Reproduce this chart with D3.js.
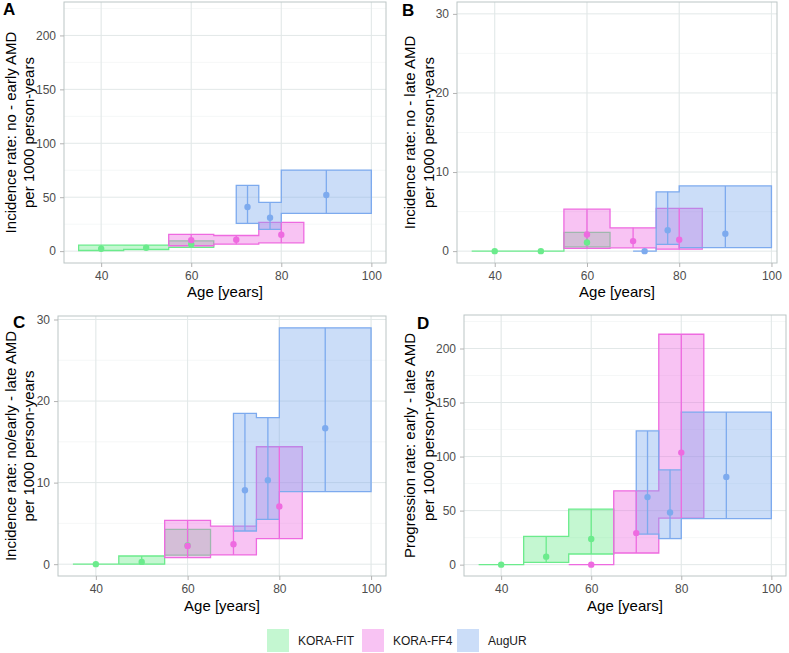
<!DOCTYPE html>
<html>
<head>
<meta charset="utf-8">
<script src="https://cdn.jsdelivr.net/npm/d3@7"></script>
<style>
  body { margin: 0; background: #fff; }
  svg { font-family: "Liberation Sans", Arial, sans-serif; }
</style>
</head>
<body>
<svg id="fig" width="789" height="653"></svg>
<script>
// Age groups (interval edges) and the age where the point sits.
const fitBreaks = [35, 45, 55, 65];
const ff4Breaks = [55, 65, 75, 85];
const augBreaks = [70, 75, 80, 100];
const fitMid = [40, 50, 60];
const ff4Mid = [60, 70, 80];
const augMid = [72.5, 77.5, 90];

const cohorts = ["KORA-FIT", "KORA-FF4", "AugUR"];

// Rows: [estimate, lower, upper] per age group.
// A: no -> early AMD
const aFit = [[2.2, 0.6, 5.5], [3.1, 1.5, 5.6], [6.5, 3.5, 9.5]];
const aFF4 = [[10.2, 5.0, 15.5], [10.5, 6.5, 14.5], [15.2, 7.7, 26.6]];
const aAug = [[40.9, 25.7, 61.0], [31.0, 20.1, 45.2], [52.0, 35.0, 75.2]];
// B: no -> late AMD
const bFit = [[0, 0, 0], [0, 0, 0], [1.1, 0.55, 2.37]];
const bFF4 = [[2.1, 0.35, 5.3], [1.27, 0.42, 2.95], [1.45, 0.25, 5.4]];
const bAug = [[0, 0, 0], [2.65, 0.85, 7.5], [2.2, 0.45, 8.25]];
// C: no/early -> late AMD
const cFit = [[0, 0, 0], [0.28, 0, 1.0], [2.3, 1.1, 4.27]];
const cFF4 = [[2.24, 0.8, 5.37], [2.44, 1.14, 4.67], [7.07, 3.13, 14.4]];
const cAug = [[9.07, 4.07, 18.5], [10.3, 5.49, 17.97], [16.67, 8.9, 28.98]];
// D: early -> late AMD (progression)
const dFit = [[0, 0, 0], [7.4, 2.15, 26.2], [23.7, 9.85, 51.4]];
const dFF4 = [[0, 0, 0], [29.2, 10.8, 68.3], [103.7, 43.1, 213.2]];
const dAug = [[62.5, 28.3, 123.7], [48.3, 24.0, 87.7], [81.2, 42.5, 141.2]];

const yTicksBig = [0, 50, 100, 150, 200];
const yTicksSmall = [0, 10, 20, 30];
const xTicks = [40, 60, 80, 100];

const colors = ["#6BEB8C", "#EE6AE0", "#7DAAEE"];
const fillAlpha = 0.4;

const svg = d3.select("#fig");

function drawPanel(p) {
  const x = d3.scaleLinear().domain(p.xDomain).range([p.left, p.right]);
  const y = d3.scaleLinear().domain(p.yDomain).range([p.bottom, p.top]);
  const g = svg.append("g");

  // grid: minor first, then major
  const xMinor = d3.range(xTicks[0] - 10, xTicks[xTicks.length - 1] + 20, 20)
    .map(v => v + 10).filter(v => v > p.xDomain[0] && v < p.xDomain[1]);
  const step = p.yTicks[1] - p.yTicks[0];
  const yMinor = p.yTicks.map(v => v + step / 2).concat([p.yTicks[0] - step / 2])
    .filter(v => v > p.yDomain[0] && v < p.yDomain[1]);

  g.selectAll(".xmin").data(xMinor).enter().append("line")
    .attr("x1", d => x(d)).attr("x2", d => x(d))
    .attr("y1", p.top).attr("y2", p.bottom)
    .attr("stroke", "#eef2f2").attr("stroke-width", 0.6);
  g.selectAll(".ymin").data(yMinor).enter().append("line")
    .attr("y1", d => y(d)).attr("y2", d => y(d))
    .attr("x1", p.left).attr("x2", p.right)
    .attr("stroke", "#eef2f2").attr("stroke-width", 0.6);
  g.selectAll(".xmaj").data(xTicks).enter().append("line")
    .attr("x1", d => x(d)).attr("x2", d => x(d))
    .attr("y1", p.top).attr("y2", p.bottom)
    .attr("stroke", "#e2e8e8").attr("stroke-width", 1);
  g.selectAll(".ymaj").data(p.yTicks).enter().append("line")
    .attr("y1", d => y(d)).attr("y2", d => y(d))
    .attr("x1", p.left).attr("x2", p.right)
    .attr("stroke", "#e2e8e8").attr("stroke-width", 1);

  const area = d3.area()
    .x(d => x(d.x))
    .y0(d => y(d.lo))
    .y1(d => y(d.hi));

  // ribbons
  p.series.forEach((s, k) => {
    const pts = [];
    s.rows.forEach((r, i) => {
      pts.push({ x: s.breaks[i], lo: r[1], hi: r[2] });
      pts.push({ x: s.breaks[i + 1], lo: r[1], hi: r[2] });
    });
    g.append("path")
      .attr("d", area(pts))
      .attr("fill", colors[k]).attr("fill-opacity", fillAlpha)
      .attr("stroke", colors[k]).attr("stroke-width", 1.3)
      .attr("stroke-linejoin", "miter");
  });

  // error bars
  p.series.forEach((s, k) => {
    g.selectAll(null).data(s.rows).enter().append("line")
      .attr("x1", (d, i) => x(s.mids[i])).attr("x2", (d, i) => x(s.mids[i]))
      .attr("y1", d => y(d[1])).attr("y2", d => y(d[2]))
      .attr("stroke", colors[k]).attr("stroke-width", 1.3);
  });

  // points
  p.series.forEach((s, k) => {
    g.selectAll(null).data(s.rows).enter().append("circle")
      .attr("cx", (d, i) => x(s.mids[i]))
      .attr("cy", d => y(d[0]))
      .attr("r", 3.2)
      .attr("fill", colors[k]);
  });

  // border
  g.append("rect")
    .attr("x", p.left).attr("y", p.top)
    .attr("width", p.right - p.left).attr("height", p.bottom - p.top)
    .attr("fill", "none").attr("stroke", "#bcc5c5").attr("stroke-width", 1);

  // axes
  const xAxis = g.append("g").attr("transform", `translate(0,${p.bottom})`)
    .call(d3.axisBottom(x).tickValues(xTicks).tickSize(4).tickPadding(4));
  const yAxis = g.append("g").attr("transform", `translate(${p.left},0)`)
    .call(d3.axisLeft(y).tickValues(p.yTicks).tickSize(4).tickPadding(4));
  [xAxis, yAxis].forEach(a => {
    a.select(".domain").remove();
    a.selectAll(".tick line").attr("stroke", "#b3b3b3");
    a.selectAll(".tick text").attr("fill", "#4d4d4d")
      .style("font-size", "12px")
      .style("font-family", "Liberation Sans, Arial, sans-serif");
  });

  // axis titles
  g.append("text")
    .attr("x", (p.left + p.right) / 2).attr("y", p.xTitleY)
    .attr("text-anchor", "middle").style("font-size", "15px")
    .attr("fill", "#000").text("Age [years]");
  const cy = (p.top + p.bottom) / 2;
  p.yTitle.forEach((t, i) => {
    g.append("text")
      .attr("transform", `translate(${p.yTitleX[i]},${cy}) rotate(-90)`)
      .attr("text-anchor", "middle").attr("dominant-baseline", "central")
      .style("font-size", "15px").attr("fill", "#000").text(t);
  });

  // panel tag
  g.append("text")
    .attr("x", p.tag[1]).attr("y", p.tag[2])
    .style("font-size", "17px").style("font-weight", "bold")
    .attr("fill", "#000").text(p.tag[0]);
}

function series(fit, ff4, aug) {
  return [
    { rows: fit, breaks: fitBreaks, mids: fitMid },
    { rows: ff4, breaks: ff4Breaks, mids: ff4Mid },
    { rows: aug, breaks: augBreaks, mids: augMid }
  ];
}

drawPanel({
  left: 64, right: 386, top: 2, bottom: 263,
  xDomain: [31.75, 103.25], yDomain: [-11, 231], yTicks: yTicksBig,
  xTitleY: 297, yTitleX: [10, 28],
  yTitle: ["Incidence rate: no - early AMD", "per 1000 person-years"],
  tag: ["A", 3, 15], series: series(aFit, aFF4, aAug)
});
drawPanel({
  left: 457, right: 777, top: 2, bottom: 263,
  xDomain: [31.82, 101.2], yDomain: [-1.5, 31.5], yTicks: yTicksSmall,
  xTitleY: 297, yTitleX: [409, 428],
  yTitle: ["Incidence rate: no - late AMD", "per 1000 person-years"],
  tag: ["B", 402, 16], series: series(bFit, bFF4, bAug)
});
drawPanel({
  left: 58, right: 386, top: 316, bottom: 576,
  xDomain: [31.75, 103.25], yDomain: [-1.45, 30.43], yTicks: yTicksSmall,
  xTitleY: 611, yTitleX: [10, 28],
  yTitle: ["Incidence rate: no/early - late AMD", "per 1000 person-years"],
  tag: ["C", 13, 328], series: series(cFit, cFF4, cAug)
});
drawPanel({
  left: 464, right: 786, top: 315, bottom: 576,
  xDomain: [31.75, 103.25], yDomain: [-10.5, 231], yTicks: yTicksBig,
  xTitleY: 611, yTitleX: [409, 428],
  yTitle: ["Progression rate: early - late AMD", "per 1000 person-years"],
  tag: ["D", 417, 329], series: series(dFit, dFF4, dAug)
});

// legend
const legendX = [267, 362, 457];
const legend = svg.append("g");
cohorts.forEach((c, k) => {
  legend.append("rect")
    .attr("x", legendX[k]).attr("y", 629).attr("width", 22).attr("height", 23)
    .attr("fill", colors[k]).attr("fill-opacity", fillAlpha);
  legend.append("text")
    .attr("x", legendX[k] + 31).attr("y", 640.5)
    .attr("dominant-baseline", "central")
    .style("font-size", "12px").attr("fill", "#1a1a1a").text(c);
});
</script>
</body>
</html>
